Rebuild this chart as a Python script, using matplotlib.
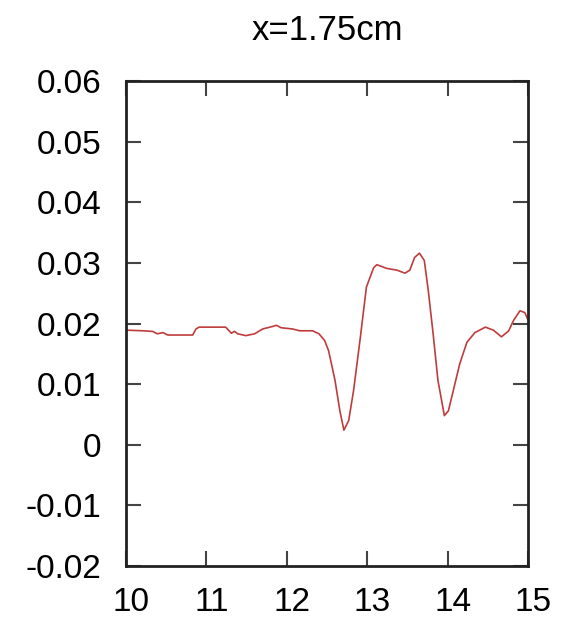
import matplotlib
matplotlib.use("Agg")
import matplotlib.pyplot as plt
from matplotlib.transforms import ScaledTranslation

# curve
pos = [10.0, 10.21, 10.33, 10.39, 10.46, 10.52, 10.83, 10.87, 10.91, 11.24,
       11.31, 11.35, 11.39, 11.49, 11.60, 11.70, 11.82, 11.87, 11.93, 12.07,
       12.16, 12.32, 12.40, 12.47, 12.52, 12.60, 12.66, 12.71, 12.77, 12.83,
       12.91, 12.99, 13.08, 13.12, 13.24, 13.37, 13.47, 13.53, 13.59, 13.65,
       13.71, 13.76, 13.82, 13.88, 13.96, 14.01, 14.07, 14.15, 14.24, 14.34,
       14.47, 14.57, 14.67, 14.76, 14.82, 14.90, 14.96, 15.0]
vals = [0.0189, 0.0188, 0.0187, 0.0183, 0.0185, 0.0181, 0.0181, 0.0191, 0.0194,
        0.0194, 0.0184, 0.0187, 0.0183, 0.0180, 0.0183, 0.0191, 0.0195, 0.0197,
        0.0193, 0.0191, 0.0188, 0.0188, 0.0183, 0.0172, 0.0155, 0.0106, 0.0056,
        0.0024, 0.0040, 0.0089, 0.0172, 0.0260, 0.0292, 0.0297, 0.0291, 0.0288,
        0.0283, 0.0288, 0.0309, 0.0316, 0.0304, 0.0254, 0.0183, 0.0106, 0.0048,
        0.0056, 0.0089, 0.0133, 0.0169, 0.0185, 0.0194, 0.0189, 0.0178, 0.0188,
        0.0205, 0.0221, 0.0218, 0.0206]

title = "x=1.75cm"
xticks = [10, 11, 12, 13, 14, 15]
yticks = [-0.02, -0.01, 0, 0.01, 0.02, 0.03, 0.04, 0.05, 0.06]
ylabels = ["-0.02", "-0.01", "0", "0.01", "0.02", "0.03", "0.04", "0.05", "0.06"]

plt.rcParams['font.family'] = ['Liberation Sans', 'DejaVu Sans']

fig = plt.figure(figsize=(5.65, 6.19), dpi=100)
ax = fig.add_axes([126 / 565, 1 - 566 / 619, 402 / 565, 485 / 619])

ax.plot(pos, vals, color='#c03c3c', linewidth=1.2)

ax.set_xlim(10, 15)
ax.set_ylim(-0.02, 0.06)
ax.set_xticks(xticks)
ax.set_yticks(yticks)
ax.set_yticklabels(ylabels)
ax.tick_params(direction='in', length=11, width=1.5, color='#444444',
               top=True, right=True, labelsize=24)
ax.tick_params(axis='x', pad=15)
ax.tick_params(axis='y', pad=18)
# x labels sit a little right of their ticks in the reference
shift = ScaledTranslation(5 / 100, 0, fig.dpi_scale_trans)
for lab in ax.get_xticklabels():
    lab.set_transform(lab.get_transform() + shift)
for s in ax.spines.values():
    s.set_linewidth(2)
    s.set_color('#222222')

fig.text(327 / 565, 1 - 30 / 619, title, ha='center', va='center', fontsize=25)

fig.savefig("out.png", dpi=100)
